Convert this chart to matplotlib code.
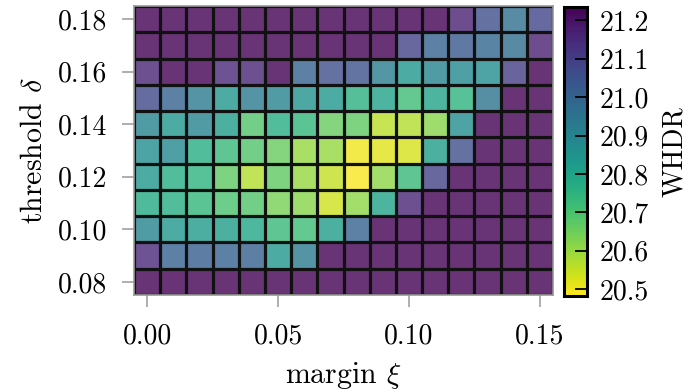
import numpy as np
import matplotlib
matplotlib.use("Agg")
import matplotlib.pyplot as plt
from matplotlib.colors import Normalize
from matplotlib.cm import ScalarMappable

plt.rcParams['font.family'] = ['cmr10', 'DejaVu Serif']
plt.rcParams['mathtext.fontset'] = 'cm'
plt.rcParams['axes.formatter.use_mathtext'] = True

margins = [0.00, 0.01, 0.02, 0.03, 0.04, 0.05, 0.06, 0.07,
           0.08, 0.09, 0.10, 0.11, 0.12, 0.13, 0.14, 0.15]
thresholds = [0.18, 0.17, 0.16, 0.15, 0.14, 0.13, 0.12, 0.11, 0.10, 0.09, 0.08]

P = 21.25  # saturated (purple) cells
row_018 = [P, P, P, P, P, P, P, P, P, P, P, P, 21.17, 21.06, 20.96, 21.08]
row_017 = [P, P, P, P, P, P, P, P, P, P, 21.09, 21.00, 21.03, 20.99, 20.97, 21.17]
row_016 = [21.16, P, P, 21.15, 21.16, P, 21.00, 21.06, 21.05, 20.92, 20.84, 20.90, 20.88, 20.87, 21.10, P]
row_015 = [21.07, 21.00, 20.93, 20.84, 20.93, 20.90, 20.85, 20.84, 20.76, 20.80, 20.72, 20.80, 20.75, 20.95, P, P]
row_014 = [20.90, 20.84, 20.90, 20.82, 20.69, 20.77, 20.74, 20.66, 20.67, 20.56, 20.57, 20.62, 20.87, P, P, P]
row_013 = [20.87, 20.88, 20.77, 20.73, 20.69, 20.66, 20.60, 20.60, 20.50, 20.52, 20.53, 20.82, 21.06, P, P, P]
row_012 = [20.84, 20.77, 20.75, 20.67, 20.57, 20.67, 20.60, 20.55, 20.49, 20.61, 20.73, 21.09, P, P, P, P]
row_011 = [20.78, 20.77, 20.74, 20.70, 20.69, 20.64, 20.62, 20.54, 20.61, 20.80, 21.16, P, P, P, P, P]
row_010 = [20.90, 20.84, 20.83, 20.82, 20.79, 20.73, 20.72, 20.82, 21.00, P, P, P, P, P, P, P]
row_009 = [21.15, 21.00, 21.02, 21.00, 21.01, 20.84, 20.93, P, P, P, P, P, P, P, P, P]
row_008 = [P] * 16

whdr = np.array([row_018, row_017, row_016, row_015, row_014, row_013,
                 row_012, row_011, row_010, row_009, row_008])

cbar_ticks = [20.5, 20.6, 20.7, 20.8, 20.9, 21.0, 21.1, 21.2]
x_ticks = [0.00, 0.05, 0.10, 0.15]
y_ticks = [0.08, 0.10, 0.12, 0.14, 0.16, 0.18]

vmin, vmax = 20.482, 21.235
norm = Normalize(vmin=vmin, vmax=vmax)
cmap = plt.get_cmap('viridis_r')

fig = plt.figure(figsize=(6.88, 3.92), dpi=100)
ax = fig.add_axes([134/688, 1-295/392, (553-134)/688, (295-6)/392])
cax = fig.add_axes([564/688, 1-296/392, (587-564)/688, (296-7)/392])

xm = np.array(margins)
ym = np.array(thresholds)
dx = 0.01
dy = 0.01
xe = np.concatenate([xm - dx/2, [xm[-1] + dx/2]])
order = np.argsort(ym)
ys = ym[order]
Z = whdr[order]
ye = np.concatenate([ys - dy/2, [ys[-1] + dy/2]])

ax.pcolormesh(xe, ye, Z, cmap=cmap, norm=norm, alpha=0.8, edgecolors='none')
ax.vlines(xe, ye[0], ye[-1], colors='#111111', linewidth=2.3)
ax.hlines(ye, xe[0], xe[-1], colors='#111111', linewidth=2.3)
ax.set_xlim(xe[0], xe[-1])
ax.set_ylim(ye[0], ye[-1])

for s in ax.spines.values():
    s.set_color('#999999')
    s.set_linewidth(1.2)

ax.set_xticks(x_ticks)
ax.set_yticks(y_ticks)
ax.set_xticklabels([f"{v:.2f}" for v in x_ticks])
ax.set_yticklabels([f"{v:.2f}" for v in y_ticks])
ax.tick_params(axis='both', direction='out', length=8.5, width=1.1,
               color='#999999', labelsize=20)
ax.tick_params(axis='y', pad=11)
ax.tick_params(axis='x', pad=12)
ax.set_xlabel(r'margin $\xi$', fontsize=21.5, labelpad=7)
ax.set_ylabel(r'threshold $\delta$', fontsize=21.5, labelpad=7)

cb = fig.colorbar(ScalarMappable(norm=norm, cmap=cmap), cax=cax)
cb.set_ticks(cbar_ticks)
cb.set_ticklabels([f"{v:.1f}" for v in cbar_ticks])
cb.outline.set_edgecolor('black')
cb.outline.set_linewidth(2.2)
cax.tick_params(direction='in', length=9, width=1.3, color='black',
                labelsize=20, pad=9)
cb.set_label('WHDR', fontsize=20, labelpad=9)

fig.savefig('out.png', dpi=100)
